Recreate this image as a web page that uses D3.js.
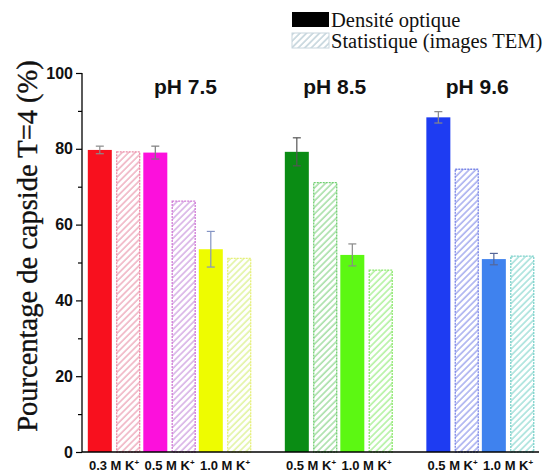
<!DOCTYPE html>
<html><head><meta charset="utf-8">
<script src="https://cdn.jsdelivr.net/npm/d3@7"></script>
<style>html,body{margin:0;padding:0;background:#fff;}svg{display:block;}</style>
</head><body><svg id="c" width="547" height="476"></svg>
<script>
// ---- data ----
const categories = ["0.3 M K", "0.5 M K", "1.0 M K", "0.5 M K", "1.0 M K", "0.5 M K", "1.0 M K"];
const groupOf = [0, 0, 0, 1, 1, 2, 2];
const phLabels = ["pH 7.5", "pH 8.5", "pH 9.6"];
const densite = [79.7, 79.0, 53.5, 79.2, 52.0, 88.3, 50.9];
const densiteErr = [1.0, 1.7, 4.7, 3.7, 2.9, 1.5, 1.5];
const statistique = [79.2, 66.2, 51.1, 71.1, 48.0, 74.6, 51.7];
const yTicks = [0, 20, 40, 60, 80, 100];
const legendLabels = ["Densité optique", "Statistique (images TEM)"];

// ---- styles ----
const solidColors = ["#f8101e", "#fc10dc", "#eefc00", "#0a8c14", "#5cf812", "#1e3cf2", "#3f82ee"];
const hatchColors = ["#f0b4c4", "#d8b2e6", "#e2f4a4", "#a8e0a8", "#b4f2a2", "#aab0f0", "#a8e2dc"];
const hatchBorders = ["#ec8ca8", "#d07ad6", "#e6f07a", "#70d070", "#8ee870", "#7a86e6", "#7ed2cc"];
const errColors = ["#8a8a8a", "#7a7a7a", "#8494c4", "#555555", "#8a8a8a", "#888888", "#556699"];

const svg = d3.select("#c");
const y = d3.scaleLinear().domain([0, 100]).range([452, 73]);
const gapUnit = 0.55;
const slot = (i) => i + groupOf[i] * gapUnit;
const x = d3.scaleLinear().domain([0, 1]).range([114, 169.5]);
const barW = 24, off = 14.2;

const defs = svg.append("defs");
hatchColors.forEach((c, i) => {
  const p = defs.append("pattern").attr("id", "h" + i)
    .attr("patternUnits", "userSpaceOnUse").attr("width", 4.6).attr("height", 10)
    .attr("patternTransform", "rotate(45)");
  p.append("rect").attr("width", 4.6).attr("height", 10).attr("fill", "#fff");
  p.append("line").attr("x1", 1).attr("x2", 1).attr("y1", 0).attr("y2", 10)
    .attr("stroke", c).attr("stroke-width", 1.6);
});

// axes
const yAxis = svg.append("g").attr("transform", "translate(82,0)")
  .call(d3.axisLeft(y).tickValues(yTicks).tickSize(6).tickPadding(3));
yAxis.select(".domain").attr("stroke", "#000").attr("stroke-width", 1.3).attr("d", `M0,${y(100)}V${y(0)}`);
yAxis.selectAll(".tick line").attr("stroke", "#000").attr("stroke-width", 1.2);
yAxis.selectAll(".tick text").attr("font-family", "Liberation Sans, Arial, sans-serif")
  .attr("font-weight", "bold").attr("font-size", 16).attr("fill", "#111");
const minor = svg.append("g").attr("transform", "translate(82,0)")
  .call(d3.axisLeft(y).tickValues([10, 30, 50, 70, 90]).tickSize(4).tickFormat(""));
minor.select(".domain").remove();
minor.selectAll(".tick line").attr("stroke", "#000").attr("stroke-width", 1.2);

// bars
const g = svg.append("g");
categories.forEach((c, i) => {
  const cx = x(slot(i));
  g.append("rect").attr("x", cx - off - barW / 2).attr("y", y(densite[i]))
    .attr("width", barW).attr("height", y(0) - y(densite[i])).attr("fill", solidColors[i]);
  g.append("rect").attr("x", cx + off - barW / 2 + 0.5).attr("y", y(statistique[i]))
    .attr("width", barW - 1).attr("height", y(0) - y(statistique[i]))
    .attr("fill", `url(#h${i})`).attr("stroke", hatchBorders[i]).attr("stroke-width", 1.3)
    .attr("stroke-dasharray", "2,1");
  // error bar
  const ex = cx - off, e = densiteErr[i];
  const eg = g.append("g").attr("stroke", errColors[i]).attr("stroke-width", 1.2);
  eg.append("line").attr("x1", ex).attr("x2", ex).attr("y1", y(densite[i] + e)).attr("y2", y(densite[i] - e));
  eg.append("line").attr("x1", ex - 4).attr("x2", ex + 4).attr("y1", y(densite[i] + e)).attr("y2", y(densite[i] + e));
  eg.append("line").attr("x1", ex - 4).attr("x2", ex + 4).attr("y1", y(densite[i] - e)).attr("y2", y(densite[i] - e));
  // category label
  const t = svg.append("text").attr("x", cx).attr("y", 470).attr("text-anchor", "middle")
    .attr("font-family", "Liberation Sans, Arial, sans-serif").attr("font-weight", "bold")
    .attr("font-size", 13).attr("fill", "#111");
  t.append("tspan").text(c);
  t.append("tspan").text("+").attr("font-size", 8).attr("dy", -5);
});

// x axis line
svg.append("line").attr("x1", 82).attr("x2", 539).attr("y1", y(0)).attr("y2", y(0))
  .attr("stroke", "#000").attr("stroke-width", 1.3);

// pH labels
const phNudge = [16, -4, -3];
phLabels.forEach((lab, k) => {
  const idx = d3.range(categories.length).filter(i => groupOf[i] === k);
  const cx = d3.mean(idx, i => x(slot(i)));
  svg.append("text").attr("x", cx + phNudge[k]).attr("y", 94).attr("text-anchor", "middle")
    .attr("font-family", "Liberation Sans, Arial, sans-serif").attr("font-weight", "bold")
    .attr("font-size", 21).attr("fill", "#111").text(lab);
});

// y label
svg.append("text").attr("transform", "translate(37,246) rotate(-90)").attr("text-anchor", "middle")
  .attr("font-family", "Liberation Serif, Times New Roman, serif").attr("font-size", 28.5)
  .attr("fill", "#111").attr("stroke", "#111").attr("stroke-width", 0.35)
  .text("Pourcentage de capside T=4 (%)");

// legend
const lg = svg.append("g").attr("font-family", "Liberation Serif, Times New Roman, serif").attr("font-size", 20.5).attr("fill", "#111");
lg.append("rect").attr("x", 292).attr("y", 12).attr("width", 37).attr("height", 15).attr("fill", "#000");
defs.append("pattern").attr("id", "hl").attr("patternUnits", "userSpaceOnUse").attr("width", 4.6).attr("height", 10)
  .attr("patternTransform", "rotate(45)")
  .call(p => { p.append("rect").attr("width", 4.6).attr("height", 10).attr("fill", "#fff");
               p.append("line").attr("x1", 1).attr("x2", 1).attr("y1", 0).attr("y2", 10).attr("stroke", "#c4d4dc").attr("stroke-width", 1.6); });
lg.append("rect").attr("x", 292).attr("y", 33).attr("width", 37).attr("height", 15).attr("fill", "url(#hl)")
  .attr("stroke", "#c8d6de").attr("stroke-width", 1);
lg.append("text").attr("x", 331).attr("y", 27).text(legendLabels[0]);
lg.append("text").attr("x", 331).attr("y", 48).text(legendLabels[1]);
</script></body></html>
